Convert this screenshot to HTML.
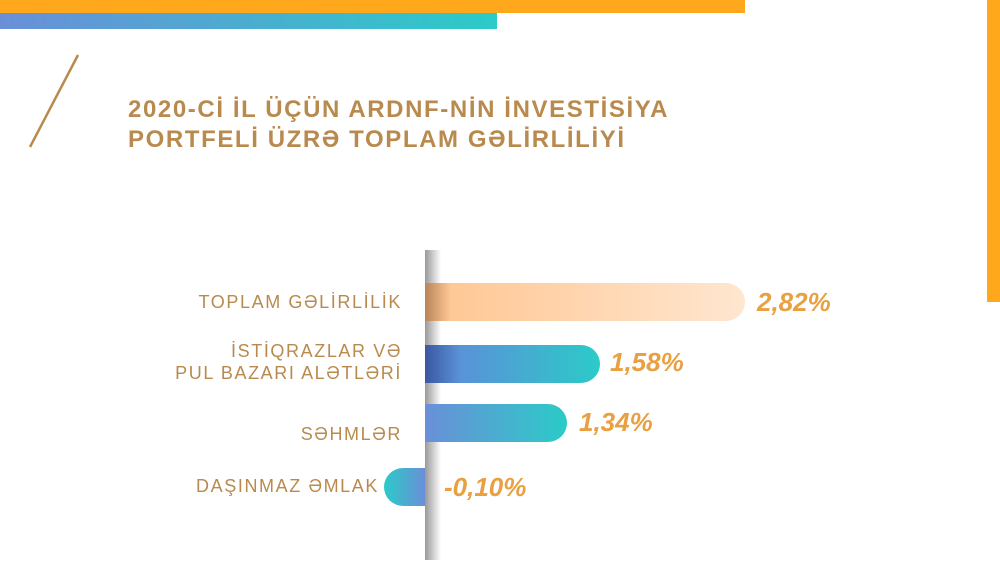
<!DOCTYPE html>
<html><head><meta charset="utf-8"><style>
body{margin:0;width:1000px;height:572px;background:#fff;position:relative;overflow:hidden;font-family:"Liberation Sans","DejaVu Sans",sans-serif}
.a{position:absolute}
.t{color:#b98a4e;font-weight:bold;font-size:24px;line-height:30px;left:128px;top:95px;letter-spacing:1.6px}
.l{color:#b98a4e;font-size:18px;letter-spacing:1.6px;text-align:right;right:598px;line-height:22px}
.v{color:#e8a040;font-size:26px;font-style:italic;font-weight:bold;letter-spacing:0}
.b{height:38px;border-radius:0 19px 19px 0}
</style></head><body>
<div class="a" style="left:0;top:0;width:745px;height:13px;background:#ffa81c"></div>
<div class="a" style="left:0;top:13px;width:497px;height:16px;background:linear-gradient(90deg,#6a8fd8,#2bcbc8)"></div>
<div class="a" style="left:987px;top:0;width:13px;height:302px;background:#ffa81c"></div>
<svg class="a" style="left:0;top:0" width="200" height="160"><line x1="78" y1="55" x2="30" y2="147" stroke="#b98a4e" stroke-width="2.5"/></svg>
<div class="a t">2020-Cİ İL ÜÇÜN ARDNF-NİN İNVESTİSİYA<br>PORTFELİ ÜZRƏ TOPLAM GƏLİRLİLİYİ</div>
<div class="a" style="left:425px;top:250px;width:16px;height:310px;background:linear-gradient(90deg,#999,rgba(255,255,255,0))"></div>
<div class="a b" style="left:425px;top:283px;width:320px;background:linear-gradient(90deg,#b88458,#ffc895 8%,#ffe6d0)"></div>
<div class="a b" style="left:425px;top:345px;width:175px;background:linear-gradient(90deg,#3a58a0,#5a92d8 20%,#2bcbc8)"></div>
<div class="a b" style="left:425px;top:404px;width:142px;background:linear-gradient(90deg,#6a8fd8,#2bcbc8)"></div>
<div class="a" style="left:384px;top:468px;width:41px;height:38px;border-radius:19px 0 0 19px;background:linear-gradient(90deg,#2bcbc8,#6a8fd8)"></div>
<div class="a l" style="top:291px">TOPLAM GƏLİRLİLİK</div>
<div class="a l" style="top:340px">İSTİQRAZLAR VƏ<br>PUL BAZARI ALƏTLƏRİ</div>
<div class="a l" style="top:423px">SƏHMLƏR</div>
<div class="a l" style="top:475px;right:621px">DAŞINMAZ ƏMLAK</div>
<div class="a v" style="left:757px;top:287px">2,82%</div>
<div class="a v" style="left:610px;top:347px">1,58%</div>
<div class="a v" style="left:579px;top:407px">1,34%</div>
<div class="a v" style="left:444px;top:472px">-0,10%</div>
</body></html>
